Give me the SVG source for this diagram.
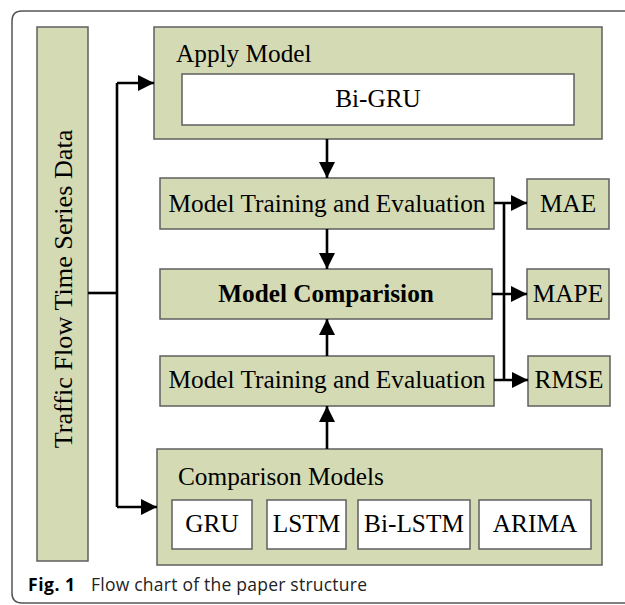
<svg xmlns="http://www.w3.org/2000/svg" width="625" height="605" viewBox="0 0 625 605">
<defs>
<style>
.box{fill:#d4dbb4;stroke:#5f5f5f;stroke-width:1.5}
.inner{fill:#ffffff;stroke:#5f5f5f;stroke-width:1.5}
.t{font-family:"Liberation Serif","Times New Roman",serif;font-size:25.3px;fill:#000}
.c{text-anchor:middle}
.b{font-weight:bold}
.ln{fill:none;stroke:#000;stroke-width:2.6}
.cap{font-family:"Open Sans","Noto Sans",sans-serif;font-size:17.5px;fill:#222}
</style>
<marker id="ah" viewBox="0 0 16 16" refX="16" refY="8" markerWidth="16" markerHeight="16" markerUnits="userSpaceOnUse" orient="auto">
<path d="M0,0 L16,8 L0,16 Z" fill="#000"/>
</marker>
</defs>
<rect width="625" height="605" fill="#fff"/>
<path d="M640,11 H22 Q12,11 12,21 V593 Q12,603 22,603 H640" fill="none" stroke="#555" stroke-width="1.5"/>

<g id="traffic-data">
<rect class="box" x="37" y="27" width="51" height="534"/>
<text class="t c" style="font-size:26.2px" transform="translate(72,289) rotate(-90)">Traffic Flow Time Series Data</text>
</g>

<g id="apply-model">
<rect class="box" x="154" y="27" width="448" height="112"/>
<text class="t" x="176" y="62">Apply Model</text>
<rect class="inner" x="182" y="74" width="392" height="51"/>
<text class="t c" x="378" y="107">Bi-GRU</text>
</g>

<g id="training-1">
<rect class="box" x="160" y="178" width="334" height="51"/>
<text class="t c" x="327" y="212">Model Training and Evaluation</text>
</g>

<g id="comparision">
<rect class="box" x="160" y="269" width="332" height="50"/>
<text class="t c b" x="326" y="302">Model Comparision</text>
</g>

<g id="training-2">
<rect class="box" x="160" y="356" width="334" height="50"/>
<text class="t c" x="327" y="388">Model Training and Evaluation</text>
</g>

<g id="mae">
<rect class="box" x="527" y="179" width="82" height="50"/>
<text class="t c" x="568" y="212">MAE</text>
</g>
<g id="mape">
<rect class="box" x="527" y="269" width="82" height="50"/>
<text class="t c" x="568" y="302">MAPE</text>
</g>
<g id="rmse">
<rect class="box" x="528" y="356" width="82" height="50"/>
<text class="t c" x="569" y="388">RMSE</text>
</g>

<g id="comparison-models">
<rect class="box" x="157" y="449" width="445" height="116"/>
<text class="t" x="178" y="485">Comparison Models</text>
<rect class="inner" x="172" y="500" width="80" height="49"/>
<text class="t c" x="212" y="532">GRU</text>
<rect class="inner" x="267" y="500" width="79" height="49"/>
<text class="t c" x="306.5" y="532">LSTM</text>
<rect class="inner" x="358" y="500" width="112" height="49"/>
<text class="t c" x="414" y="532">Bi-LSTM</text>
<rect class="inner" x="479" y="500" width="112" height="49"/>
<text class="t c" x="535" y="532">ARIMA</text>
</g>

<g id="connectors">
<path class="ln" d="M88,293 H117"/>
<path class="ln" d="M117,83 V507"/>
<path class="ln" d="M117,83 H154" marker-end="url(#ah)"/>
<path class="ln" d="M117,507 H157" marker-end="url(#ah)"/>
<path class="ln" d="M327,139 V178" marker-end="url(#ah)"/>
<path class="ln" d="M327,229 V269" marker-end="url(#ah)"/>
<path class="ln" d="M327,356 V319" marker-end="url(#ah)"/>
<path class="ln" d="M327,449 V406" marker-end="url(#ah)"/>
<path class="ln" d="M504,203 V380"/>
<path class="ln" d="M494,203 H527" marker-end="url(#ah)"/>
<path class="ln" d="M492,294 H527" marker-end="url(#ah)"/>
<path class="ln" d="M494,380 H528" marker-end="url(#ah)"/>
</g>

<g id="caption">
<text class="cap" x="28" y="591"><tspan font-weight="bold" fill="#000" textLength="47">Fig. 1</tspan><tspan x="91" textLength="276">Flow chart of the paper structure</tspan></text>
</g>
</svg>
